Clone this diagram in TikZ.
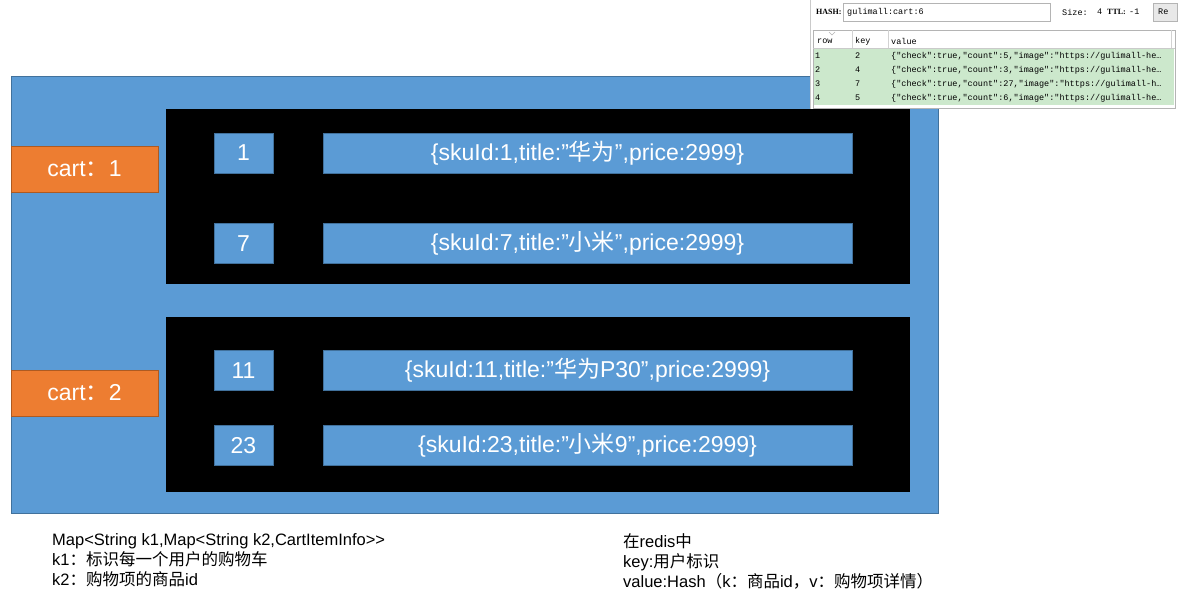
\documentclass[tikz,border=0pt]{standalone}
\usepackage{fontspec}
\setmainfont{Liberation Sans}
\newfontfamily\cjk{Noto Sans CJK SC}
\newfontfamily\shotmono{Liberation Mono}
\newfontfamily\shotserif{Liberation Serif}
\usetikzlibrary{positioning}
\definecolor{boxblue}{HTML}{5B9BD5}
\definecolor{boxedge}{HTML}{41719C}
\definecolor{cartorange}{HTML}{ED7D31}
\definecolor{cartedge}{HTML}{AE5A21}
\definecolor{rowgreen}{HTML}{CCE8CC}
\definecolor{shotgrey}{HTML}{B4B4B4}
\newcommand{\zh}[1]{{\cjk #1}}
\newcommand{\bigtext}{\fontsize{23}{27}\selectfont}
\newcommand{\notetext}{\fontsize{16.5}{20}\selectfont}

\begin{document}
\begin{tikzpicture}[x=1pt,y=-1pt,
    panel/.style={draw=boxedge,fill=boxblue,line width=1pt,inner sep=0pt,anchor=north west},
    cartgroup/.style={fill=black,inner sep=0pt,anchor=north west},
    cartbox/.style={draw=cartedge,fill=cartorange,line width=1pt,text=white,font=\bigtext,
      minimum width=147pt,minimum height=46pt,inner sep=0pt},
    keybox/.style={draw=boxedge,fill=boxblue,line width=1pt,text=white,font=\bigtext,
      minimum width=59pt,minimum height=40pt,inner sep=0pt},
    valbox/.style={keybox,minimum width=529pt},
    note/.style={anchor=north west,align=left,inner sep=0pt,font=\notetext},
    shot/.style={font=\shotmono\fontsize{8.5}{10}\selectfont,inner sep=0pt,anchor=west},
    shotbold/.style={font=\shotserif\bfseries\fontsize{8}{10}\selectfont,inner sep=0pt,anchor=west}]
    \useasboundingbox (0,0) rectangle (1200,614);

    % redis hash as nested boxes
    \node[panel,minimum width=927pt,minimum height=437pt] (redis) at (11,76) {};
    \node[cartgroup,minimum width=744pt,minimum height=175pt] (group1) at (166,109) {};
    \node[cartgroup,minimum width=744pt,minimum height=175pt] (group2) at (166,317) {};

    \node[cartbox] (cart1) at (84.5,169) {cart\zh{：}1};
    \node[cartbox] (cart2) at (84.5,393) {cart\zh{：}2};

    \node[keybox] (key1) at (243.5,153) {1};
    \node[valbox,right=49pt of key1] (val1) {\{skuId:1,title:”\zh{华为}”,price:2999\}};
    \node[keybox] (key2) at (243.5,243.5) {7};
    \node[valbox,right=49pt of key2] (val2) {\{skuId:7,title:”\zh{小米}”,price:2999\}};
    \node[keybox] (key3) at (243.5,370.5) {11};
    \node[valbox,right=49pt of key3] (val3) {\{skuId:11,title:”\zh{华为}P30”,price:2999\}};
    \node[keybox] (key4) at (243.5,445.5) {23};
    \node[valbox,right=49pt of key4] (val4) {\{skuId:23,title:”\zh{小米}9”,price:2999\}};

    % notes under the diagram
    \node[note] (javanote) at (52,533) {Map<String k1,Map<String k2,CartItemInfo>{}>\\
      k1\zh{：标识每一个用户的购物车}\\
      k2\zh{：购物项的商品}id};
    \node[note] (redisnote) at (623,533) {\zh{在}redis\zh{中}\\
      key:\zh{用户标识}\\
      value:Hash\zh{（}k\zh{：商品}id\zh{，}v\zh{：购物项详情）}};

    % client screenshot, top right
    \fill[white] (810,0) rectangle (1176,109);
    \draw[shotgrey!70] (810.5,0) -- (810.5,109);
    \node[shotbold] (hashlbl) at (816,12) {HASH:};
    \node[draw=shotgrey,fill=white,minimum width=207pt,minimum height=18pt,inner sep=0pt,anchor=north west] (hashfield) at (843,3) {};
    \node[shot] (hashkey) at (847,12) {gulimall:cart:6};
    \node[shot] (sizelbl) at (1062,12) {Size:};
    \node[shot] (sizeval) at (1097,12) {4};
    \node[shotbold] (ttllbl) at (1107,12) {TTL:};
    \node[shot] (ttlval) at (1129,12) {-1};
    \node[draw=shotgrey,fill=gray!18,minimum width=24pt,minimum height=18pt,inner sep=0pt,anchor=north west] (rebtn) at (1153,3) {};
    \node[shot,right=5pt of rebtn.west] (retext) {Re};

    \draw[shotgrey] (813,30) rectangle (1175,108);
    \draw[shotgrey!60] (852,30) -- (852,48) (888,30) -- (888,48) (1171,30) -- (1171,48);
    \draw[shotgrey!70] (813,48) -- (1175,48);
    \draw[shotgrey] (829,32) -- (832,35) -- (835,32);
    \node[shot] (hdrrow) at (817,41) {row};
    \node[shot] (hdrkey) at (855,41) {key};
    \node[shot] (hdrval) at (891,41) {value};
    \foreach \r/\k/\c/\t [count=\i] in {1/2/5/he,2/4/3/he,3/7/27/h,4/5/6/he} {
      \fill[rowgreen] (814,35+14*\i) rectangle (1174,48.6+14*\i);
      \node[shot] (row\i) at (815,42+14*\i) {\r};
      \node[shot] (key\i) at (855,42+14*\i) {\k};
      \node[shot] (val\i) at (891,42+14*\i) {\{"check":true,"count":\c,"image":"https://gulimall-\t…};
    }
  \end{tikzpicture}
\end{document}
